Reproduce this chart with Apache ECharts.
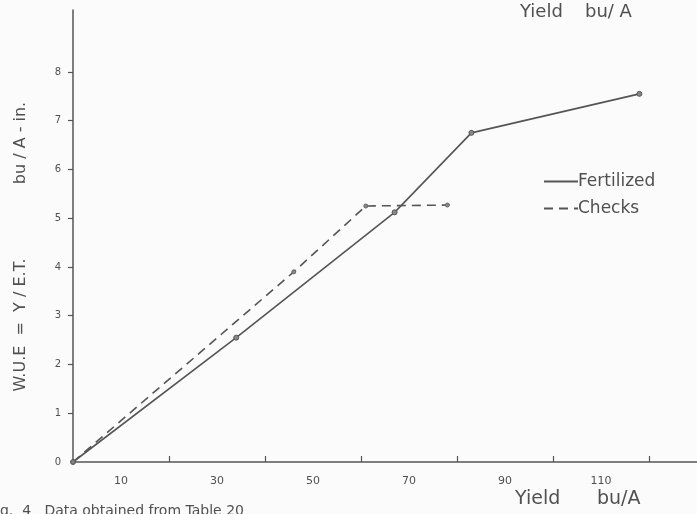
<!DOCTYPE html>
<html>
<head>
<meta charset="utf-8">
<script src="https://cdn.jsdelivr.net/npm/echarts@6/dist/echarts.min.js"></script>
<style>
html,body{margin:0;padding:0;background:#fbfbfb;}
#c{width:697px;height:514px;}
</style>
</head>
<body>
<div id="c"></div>
<script>
// Data
var fertYield = [0, 34, 67, 83, 118];
var fertWUE   = [0, 2.55, 5.12, 6.75, 7.55];
var checkYield = [0, 46, 61, 78];
var checkWUE   = [0, 3.9, 5.25, 5.27];
var xTickValues  = [20, 40, 60, 80, 100, 120];
var xLabelValues = [10, 30, 50, 70, 90, 110];
var yTickValues  = [1, 2, 3, 4, 5, 6, 7, 8];
var yLabelValues = [0, 1, 2, 3, 4, 5, 6, 7, 8];

function pairs(xs, ys){ return xs.map(function(x,i){ return [x, ys[i]]; }); }

var txt = '#505050';
var ink = '#555';
var font = 'DejaVu Sans';

var chart = echarts.init(document.getElementById('c'), null, {renderer:'canvas'});
chart.setOption({
  backgroundColor: '#fbfbfb',
  animation: false,
  textStyle: {fontFamily: font, color: txt},
  grid: {left: 73, top: 10, right: 0, bottom: 52, containLabel: false},
  xAxis: {
    type: 'value', min: 0, max: 130,
    axisLine: {lineStyle: {color: ink, width: 1.5}},
    splitLine: {show: false},
    axisTick: {show: true, inside: true, length: 6, customValues: xTickValues, lineStyle: {color: ink, width: 1.2}},
    axisLabel: {customValues: xLabelValues, fontSize: 11, color: txt, margin: 14, fontFamily: font}
  },
  yAxis: {
    type: 'value', min: 0, max: 9.27,
    axisLine: {lineStyle: {color: ink, width: 1.5}},
    splitLine: {show: false},
    axisTick: {show: true, length: 5, customValues: yTickValues, lineStyle: {color: ink, width: 1.2}},
    axisLabel: {customValues: yLabelValues, fontSize: 10, color: txt, margin: 12, fontFamily: font}
  },
  legend: {
    orient: 'vertical', left: 538, top: 168, itemGap: 10,
    itemWidth: 34, itemHeight: 10,
    textStyle: {fontSize: 17, color: txt, fontFamily: font, padding: [0,0,0,-5]},
    itemStyle: {opacity: 0},
    data: ['Fertilized', 'Checks']
  },
  series: [
    {
      name: 'Fertilized', type: 'line', data: pairs(fertYield, fertWUE),
      symbol: 'circle', symbolSize: 5,
      itemStyle: {color: '#888', borderColor: '#555', borderWidth: 1},
      lineStyle: {color: ink, width: 1.6}
    },
    {
      name: 'Checks', type: 'line', data: pairs(checkYield, checkWUE),
      symbol: 'circle', symbolSize: 4,
      itemStyle: {color: '#888', borderColor: '#666', borderWidth: 1},
      lineStyle: {color: ink, width: 1.6, type: [9, 6]}
    }
  ],
  graphic: [
    {type: 'text', left: 520, top: 3, style: {text: 'Yield', font: '18px "DejaVu Sans"', fill: txt}},
    {type: 'text', left: 585, top: 3, style: {text: 'bu/ A', font: '18px "DejaVu Sans"', fill: txt}},
    {type: 'text', left: 515, top: 490, style: {text: 'Yield', font: '19px "DejaVu Sans"', fill: txt}},
    {type: 'text', left: 597, top: 490, style: {text: 'bu/A', font: '19px "DejaVu Sans"', fill: txt}},
    {type: 'text', x: 21, y: 325, rotation: Math.PI/2, style: {text: 'W.U.E  =  Y / E.T.', font: '16px "DejaVu Sans"', fill: txt, align: 'center', verticalAlign: 'middle'}},
    {type: 'text', x: 21, y: 143, rotation: Math.PI/2, style: {text: 'bu / A - in.', font: '16px "DejaVu Sans"', fill: txt, align: 'center', verticalAlign: 'middle'}},
    {type: 'text', left: -4, top: 504, style: {text: 'ig.  4   Data obtained from Table 20', font: '14px "DejaVu Sans"', fill: txt}}
  ]
});
</script>
</body>
</html>
